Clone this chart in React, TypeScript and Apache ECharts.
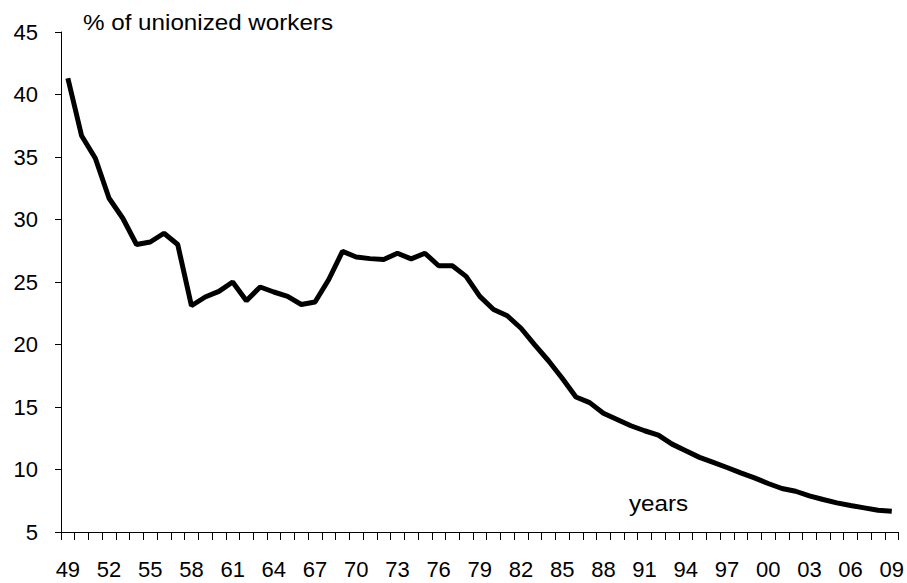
import React, { useEffect, useRef } from "react";
import * as echarts from "echarts";

const years: string[] = [];
for (let y = 1949; y <= 2009; y++) years.push(String(y % 100).padStart(2, "0"));

const unionShare: number[] = [
  41.3, 36.7, 34.9, 31.7, 30.1, 28.0, 28.2, 28.9, 28.0, 23.1,
  23.8, 24.25, 25.0, 23.5, 24.6, 24.2, 23.85, 23.2, 23.4, 25.2,
  27.45, 27.0, 26.87, 26.8, 27.3, 26.85, 27.3, 26.3, 26.3, 25.45,
  23.85, 22.8, 22.3, 21.3, 19.97, 18.7, 17.3, 15.8, 15.35, 14.5,
  14.0, 13.5, 13.1, 12.75, 12.03, 11.5, 10.97, 10.57, 10.16, 9.73,
  9.33, 8.88, 8.48, 8.26, 7.89, 7.6, 7.33, 7.12, 6.93, 6.74, 6.66,
];

const yTicks = { min: 5, max: 45, interval: 5 };

const FONT = "Arial, 'Liberation Sans', sans-serif";

export default function App() {
  const ref = useRef<HTMLDivElement>(null);
  useEffect(() => {
    if (!ref.current) return;
    const chart = echarts.init(ref.current, undefined, { renderer: "svg" });
    chart.setOption({
      animation: false,
      backgroundColor: "#ffffff",
      grid: { left: 61, right: 8, top: 32, bottom: 51, containLabel: false },
      graphic: [
        {
          type: "text",
          x: 83,
          y: 11,
          scaleX: 1.1,
          style: { text: "% of unionized workers", font: `22px ${FONT}`, fill: "#000" },
        },
        {
          type: "text",
          x: 629,
          y: 492,
          scaleX: 1.1,
          style: { text: "years", font: `22px ${FONT}`, fill: "#000" },
        },
      ],
      xAxis: {
        type: "category",
        data: years,
        boundaryGap: true,
        axisLine: { lineStyle: { color: "#000", width: 1 } },
        axisTick: { show: true, interval: 0, length: 8, lineStyle: { color: "#000" } },
        axisLabel: {
          interval: 2,
          margin: 26,
          color: "#000",
          fontFamily: FONT,
          fontSize: 22,
        },
        splitLine: { show: false },
      },
      yAxis: {
        type: "value",
        min: yTicks.min,
        max: yTicks.max,
        interval: yTicks.interval,
        axisLine: { show: true, lineStyle: { color: "#000", width: 1 } },
        axisTick: { show: true, inside: false, length: 6, lineStyle: { color: "#000" } },
        axisLabel: { margin: 23, color: "#000", fontFamily: FONT, fontSize: 22 },
        splitLine: { show: false },
      },
      series: [
        {
          type: "line",
          data: unionShare,
          showSymbol: false,
          symbol: "none",
          lineStyle: { color: "#000", width: 5 },
        },
      ],
    });
    return () => chart.dispose();
  }, []);
  return (
    <div
      ref={ref}
      style={{ position: "absolute", left: 0, top: 0, width: 907, height: 583, overflow: "hidden" }}
    />
  );
}
